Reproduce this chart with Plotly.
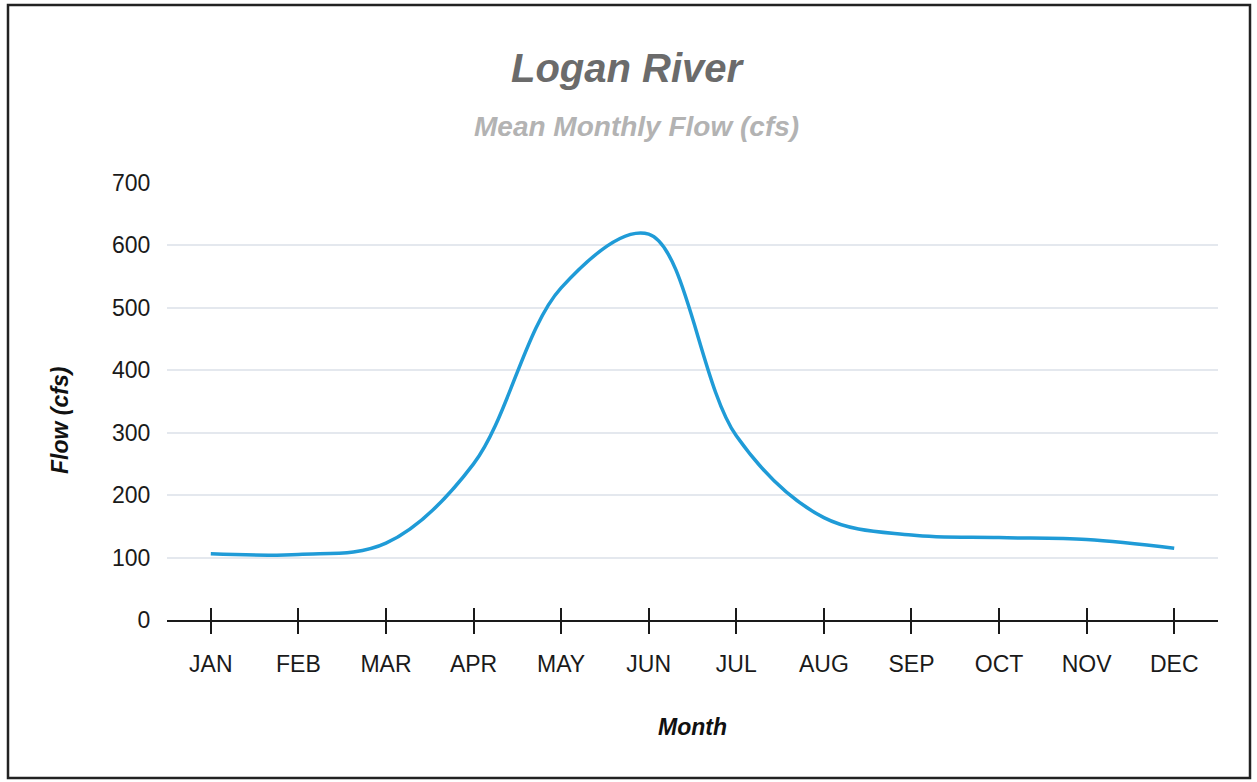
import plotly.graph_objects as go

months = ["JAN", "FEB", "MAR", "APR", "MAY", "JUN", "JUL", "AUG", "SEP", "OCT", "NOV", "DEC"]
flow_cfs = [106, 105, 123, 250, 532, 618, 295, 164, 136, 132, 129, 115]
y_ticks = [0, 100, 200, 300, 400, 500, 600, 700]

FONT = "Liberation Sans, Arial, sans-serif"

fig = go.Figure()
fig.add_trace(go.Scatter(
    x=months, y=flow_cfs, mode="lines",
    line=dict(color="#1f9bd7", width=3.5, shape="spline", smoothing=1.0),
    hoverinfo="x+y", showlegend=False,
))
# invisible trace on overlay axis for inward tick half
fig.add_trace(go.Scatter(x=months, y=flow_cfs, xaxis="x2", mode="lines",
                         line=dict(width=0), hoverinfo="skip", showlegend=False))

fig.update_layout(
    width=1257, height=782,
    margin=dict(l=167, r=39, t=183, b=162),
    paper_bgcolor="white", plot_bgcolor="white",
    font=dict(family=FONT, size=23, color="#111"),
    xaxis=dict(
        type="category", range=[-0.5, 11.5],
        showgrid=False, zeroline=False,
        showline=True, linecolor="#1a1a1a", linewidth=2,
        ticks="outside", ticklen=12, tickwidth=1.6, tickcolor="#1a1a1a",
        tickfont=dict(size=23, color="#1a1a1a"),
        ticklabelstandoff=10,
    ),
    xaxis2=dict(
        type="category", range=[-0.5, 11.5], overlaying="x",
        showgrid=False, zeroline=False, showline=False,
        ticks="inside", ticklen=12, tickwidth=1.6, tickcolor="#1a1a1a",
        showticklabels=False,
    ),
    yaxis=dict(
        range=[0, 700], tickvals=y_ticks,
        showgrid=True, gridcolor="#e4e8ee", gridwidth=1.5,
        zeroline=False, showline=False,
        ticks="outside", ticklen=6, tickcolor="rgba(0,0,0,0)",
        tickfont=dict(size=23, color="#1a1a1a"),
        ticklabelstandoff=5,
    ),
    annotations=[
        dict(text="<b><i>Logan River</i></b>", xref="paper", yref="paper",
             x=(628 - 167) / 1051, y=(620 - 68) / 437, xanchor="center", yanchor="middle",
             showarrow=False, font=dict(size=40, color="#6b6b6b", family=FONT)),
        dict(text="<b><i>Mean Monthly Flow (cfs)</i></b>", xref="paper", yref="paper",
             x=(636 - 167) / 1051, y=(620 - 126) / 437, xanchor="center", yanchor="middle",
             showarrow=False, font=dict(size=28, color="#b3b3b3", family=FONT)),
        dict(text="<b><i>Month</i></b>", xref="paper", yref="paper",
             x=0.5, y=(620 - 727) / 437, xanchor="center", yanchor="middle",
             showarrow=False, font=dict(size=23, color="#111", family=FONT)),
        dict(text="<b><i>Flow (cfs)</i></b>", xref="paper", yref="paper",
             x=(60 - 167) / 1051, y=(620 - 421) / 437, xanchor="center", yanchor="middle",
             showarrow=False, textangle=-90, font=dict(size=23, color="#111", family=FONT)),
    ],
    shapes=[
        dict(type="rect", xref="paper", yref="paper",
             x0=(8 - 167) / 1051, x1=(1250 - 167) / 1051,
             y0=(620 - 778) / 437, y1=(620 - 5) / 437,
             line=dict(color="#222", width=2.5), fillcolor="rgba(0,0,0,0)", layer="below"),
    ],
)

fig.write_html("out.html", config={"displayModeBar": False},
               post_script="document.body.style.margin='0';document.body.style.overflow='hidden';")
